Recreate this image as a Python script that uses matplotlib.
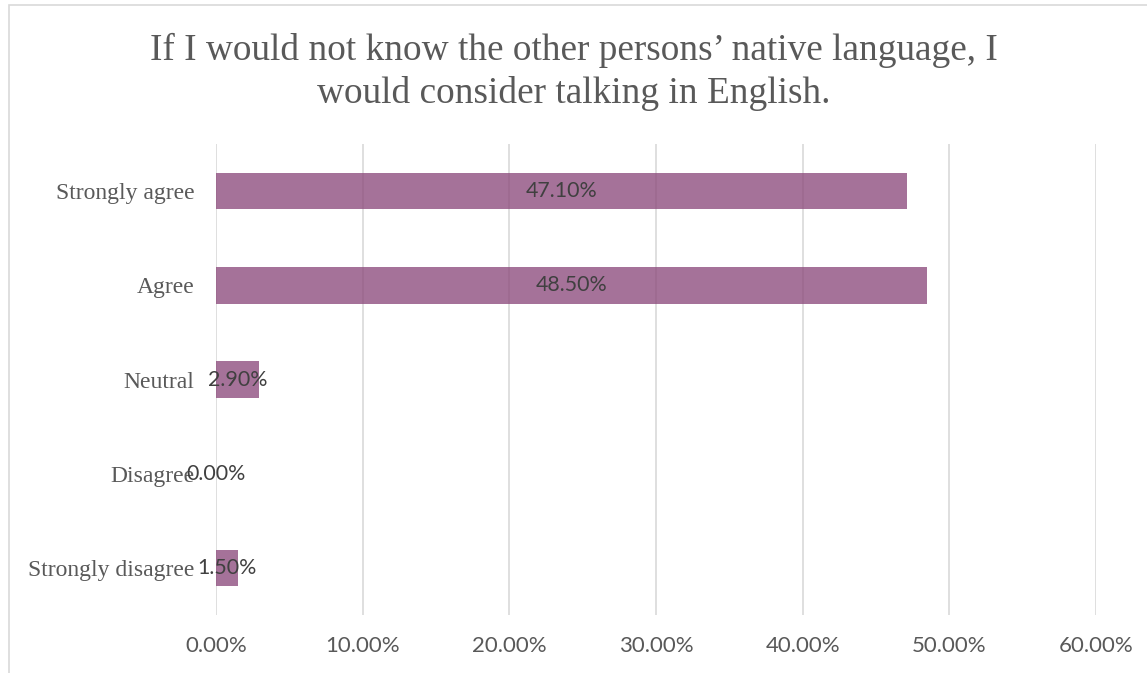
import matplotlib.pyplot as plt
from matplotlib.patches import Rectangle
from matplotlib.ticker import FuncFormatter

categories = ["Strongly agree", "Agree", "Neutral", "Disagree", "Strongly disagree"]
shares = [47.10, 48.50, 2.90, 0.00, 1.50]
x_ticks = [0, 10, 20, 30, 40, 50, 60]
title = "If I would not know the other persons\u2019 native language, I\nwould consider talking in English."

serif = "Liberation Serif"
sans = "Lato"
label_gray = "#595959"
bar_color = "#8C4A7C"

fig = plt.figure(figsize=(11.47, 6.73), dpi=100)
ax = fig.add_axes([216 / 1147, 1 - 615 / 673, (1096 - 216) / 1147, (615 - 144) / 673])

# chart area border
fig.patches.append(Rectangle((9 / 1147, -0.1), 1.2, 1 - 5 / 673 + 0.1,
                             transform=fig.transFigure, fill=False,
                             edgecolor="#D9D9D9", linewidth=1.2))

ypos = list(range(len(categories)))[::-1]
ax.barh(ypos, shares, height=0.39, color=bar_color, alpha=0.78, zorder=3)

# value labels sit in the middle of each bar
for y, v in zip(ypos, shares):
    ax.text(v / 2, y, f"{v:.2f}%", ha="center", va="center",
            fontsize=15.4, family=sans, color="#404040", zorder=5)

ax.set_xlim(0, 60)
ax.set_ylim(-0.5, len(categories) - 0.5)
ax.set_xticks(x_ticks)
ax.xaxis.set_major_formatter(FuncFormatter(lambda v, _: f"{v:.2f}%"))
ax.set_yticks(ypos)
ax.set_yticklabels(categories)

ax.grid(axis="x", color="#D9D9D9", linewidth=1.2, zorder=0)
ax.set_axisbelow(True)
for s in ax.spines.values():
    s.set_visible(False)
ax.tick_params(axis="both", length=0)
ax.tick_params(axis="x", pad=15, labelsize=16, labelcolor=label_gray)
ax.tick_params(axis="y", pad=15.5, labelsize=17, labelcolor=label_gray)
for t in ax.get_xticklabels():
    t.set_family(sans)
for t in ax.get_yticklabels():
    t.set_family(serif)

fig.text(0.5, 1 - 72 / 673, title, ha="center", va="center",
         fontsize=26.8, family=serif, color=label_gray, linespacing=1.28)

fig.savefig("out.png", dpi=100)
